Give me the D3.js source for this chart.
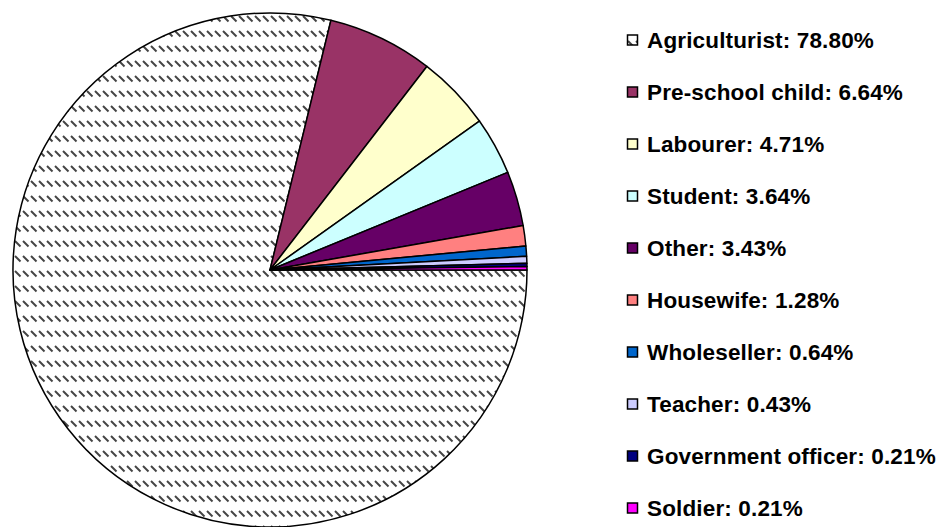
<!DOCTYPE html>
<html>
<head>
<meta charset="utf-8">
<script src="https://cdn.jsdelivr.net/npm/d3@7"></script>
<style>
body { margin: 0; background: #fff; }
</style>
</head>
<body>
<script>
// occupation shares (percent)
var categories = ["Agriculturist", "Pre-school child", "Labourer", "Student", "Other",
    "Housewife", "Wholeseller", "Teacher", "Government officer", "Soldier"];
var values = [78.80, 6.64, 4.71, 3.64, 3.43, 1.28, 0.64, 0.43, 0.21, 0.21];
var colors = ["url(#hatch)", "#993366", "#FFFFCC", "#CCFFFF", "#660066",
    "#FF8080", "#0066CC", "#CCCCFF", "#000080", "#FF00FF"];

var width = 952,
    height = 527;

var svg = d3.select("body")
    .append("svg")
    .attr("width", width)
    .attr("height", height);

// dashed downward diagonal fill
var pat = svg.append("defs").append("pattern")
    .attr("id", "hatch")
    .attr("patternUnits", "userSpaceOnUse")
    .attr("width", 8)
    .attr("height", 15);
pat.append("rect").attr("width", 8).attr("height", 15).attr("fill", "#fff");
pat.append("line")
    .attr("x1", 1).attr("y1", 1).attr("x2", 6.5).attr("y2", 6.5)
    .attr("stroke", "#444").attr("stroke-width", 2);

var data = categories.map(function(c, i){ return {name: c, value: values[i], color: colors[i]}; });

var pie = d3.pie()
    .sort(null)
    .value(function(d){ return d.value; })
    .startAngle(Math.PI / 2)
    .endAngle(Math.PI / 2 + 2 * Math.PI);

var arc = d3.arc()
    .innerRadius(0)
    .outerRadius(257);

var g = svg.append("g")
    .attr("transform", "translate(270,270)");

g.selectAll(".slice")
    .data(pie(data))
    .enter()
    .append("path")
    .attr("class", "slice")
    .attr("d", arc)
    .attr("fill", function(d){ return d.data.color; })
    .attr("stroke", "#000")
    .attr("stroke-width", 1.5)
    .attr("stroke-linejoin", "round");

// legend
var y = d3.scalePoint()
    .domain(categories)
    .range([40, 508]);

var legend = svg.selectAll(".legend")
    .data(data)
    .enter()
    .append("g")
    .attr("class", "legend")
    .attr("transform", function(d){ return "translate(627," + y(d.name) + ")"; });

legend.append("rect")
    .attr("x", 0.5)
    .attr("y", -5)
    .attr("width", 10)
    .attr("height", 10)
    .attr("fill", function(d){ return d.color; })
    .attr("stroke", "#000")
    .attr("stroke-width", 1.5);

legend.append("text")
    .attr("x", 20)
    .attr("y", 7.5)
    .attr("font-family", "Liberation Sans, Arial, sans-serif")
    .attr("font-weight", "bold")
    .attr("font-size", "22.5px")
    .attr("letter-spacing", "0.15px")
    .attr("fill", "#000")
    .text(function(d){ return d.name + ": " + d.value.toFixed(2) + "%"; });
</script>
</body>
</html>
